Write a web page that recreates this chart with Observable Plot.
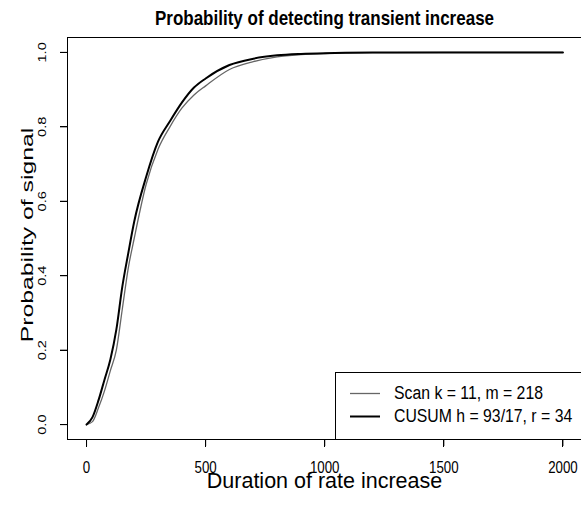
<!DOCTYPE html>
<html><head><meta charset="utf-8">
<script src="https://cdn.jsdelivr.net/npm/d3@7"></script>
<script src="https://cdn.jsdelivr.net/npm/@observablehq/plot@0.6"></script>
<style>
body{margin:0;background:#fff;}
#wrap{position:relative;width:581px;height:508px;overflow:hidden;}
#chart svg{font-family:'Liberation Sans', Arial, Helvetica, sans-serif;}
.edge{position:absolute;background:#000;pointer-events:none;}
</style>
</head><body><div id="wrap"><div id="chart"></div></div>
<script>
const duration = [0,25,50,75,100,125,150,175,200,250,300,350,400,450,500,600,700,800,900,1000,1200,1500,2000];
const scanProb = [0,0.008,0.045,0.09,0.145,0.2,0.31,0.42,0.5,0.645,0.74,0.80,0.85,0.885,0.91,0.954,0.975,0.988,0.994,0.997,0.9993,1,1];
const cusumProb = [0,0.02,0.065,0.12,0.175,0.255,0.37,0.46,0.545,0.665,0.76,0.815,0.865,0.905,0.93,0.966,0.983,0.992,0.996,0.998,0.9995,1,1];
const seriesNames = ["Scan k = 11, m = 218", "CUSUM h = 93/17, r = 34"];
const seriesColors = ["#666666", "#000000"];
const xTicks = [0,500,1000,1500,2000];
const yTicks = [0,0.2,0.4,0.6,0.8,1.0];
const xDomain = [-80, 2078];
const yDomain = [-0.04, 1.04];
const titleText = "Probability of detecting transient increase";
const xLabel = "Duration of rate increase";
const yLabel = "Probability of signal";

const scanData = duration.map((d,i)=>({x:d, y:scanProb[i]}));
const cusumData = duration.map((d,i)=>({x:d, y:cusumProb[i]}));

const W = 581, H = 508;
const M = {left:67, right:0, top:37, bottom:69};
const FONT = "'Liberation Sans', Arial, Helvetica, sans-serif";
const TICK = 7;

const plot = Plot.plot({
  width: W, height: H,
  marginLeft: M.left, marginRight: M.right, marginTop: M.top, marginBottom: M.bottom,
  x: {domain: xDomain},
  y: {domain: yDomain},
  marks: [
    Plot.frame({stroke: "black"}),
    Plot.ruleX([xDomain[0]], {stroke: "black", strokeWidth: 1}),
    Plot.ruleY(yDomain, {stroke: "black", strokeWidth: 1}),
    Plot.axisX(xTicks, {tickSize: TICK, tickPadding: 14, fontSize: 13.3, label: null, stroke: "black", tickFormat: d3.format("d")}),
    Plot.axisY(yTicks, {tickSize: TICK, tickPadding: 15, fontSize: 11.2, label: null, stroke: "black", tickRotate: -90,
      textAnchor: "middle", lineAnchor: "bottom", tickFormat: d3.format(".1f")}),
    Plot.line(scanData, {x: "x", y: "y", stroke: seriesColors[0], strokeWidth: 1.3, curve: "monotone-x"}),
    Plot.line(cusumData, {x: "x", y: "y", stroke: seriesColors[1], strokeWidth: 2, curve: "monotone-x"}),
    Plot.text([titleText], {frameAnchor: "top", dy: -27, fontSize: 17, fontWeight: "bold"}),
    Plot.text([xLabel], {frameAnchor: "bottom", dy: 48.5, fontSize: 21.5}),
    Plot.text([yLabel], {frameAnchor: "left", dx: -40, dy: -3.5, rotate: -90, textAnchor: "middle", lineAnchor: "middle", fontSize: 16.5})
  ]
});
document.getElementById("chart").appendChild(plot);

const svg = d3.select(plot);
const xs = plot.scale("x"), ys = plot.scale("y");
const fl = M.left, ft = M.top, fr = W - M.right, fb = H - M.bottom;

// legend (bottom-right inside the frame)
const lg = svg.append("g").attr("font-family", FONT).attr("text-anchor", "start");
lg.append("rect").attr("x", 335.5).attr("y", 372.5).attr("width", fr - 335).attr("height", fb - 372)
  .attr("fill", "white").attr("stroke", "black");
const rowY = [393.5, 416.5];
seriesNames.forEach((name, i) => {
  lg.append("line").attr("x1", 350).attr("x2", 380).attr("y1", rowY[i]).attr("y2", rowY[i])
    .attr("stroke", seriesColors[i]).attr("stroke-width", i ? 2 : 1.3);
  lg.append("text").attr("transform", `translate(394,${rowY[i]})`).attr("dy", "0.32em")
    .attr("text-anchor", "start").attr("font-size", 15.8).attr("fill", "black").text(name);
});

// emulate the vertically stretched look of the original raster
const stretchFor = t => {
  if (t === titleText) return 1.17;
  if (t === xLabel) return 1.0;
  if (t === yLabel) return 1.5;
  if (seriesNames.includes(t)) return 1.17;
  return 1.3;
};
svg.selectAll("text").each(function() {
  let tr = this.getAttribute("transform");
  if (!tr) {
    const x = +this.getAttribute("x") || 0, y = +this.getAttribute("y") || 0;
    this.removeAttribute("x"); this.removeAttribute("y");
    tr = `translate(${x},${y})`;
  }
  const s = stretchFor(this.textContent);
  this.setAttribute("transform", tr + (/rotate/.test(tr) ? ` scale(${s},1)` : ` scale(1,${s})`));
});

// extra box edges and ticks as HTML elements placed through Plot's scales
const wrap = document.getElementById("wrap");
const edge = (x, y, w, h) => {
  const d = document.createElement("div");
  d.className = "edge";
  Object.assign(d.style, {left: x + "px", top: y + "px", width: w + "px", height: h + "px"});
  wrap.appendChild(d);
};
edge(fl, ft, fr - fl + 1, 1);
edge(fl, fb, fr - fl + 1, 1);
edge(fl, ft, 1, fb - ft + 1);
xTicks.forEach(t => edge(Math.round(xs.apply(t)), fb + 1, 1, TICK));
yTicks.forEach(t => edge(fl - TICK, Math.round(ys.apply(t)), TICK, 1));
</script>
</body></html>
